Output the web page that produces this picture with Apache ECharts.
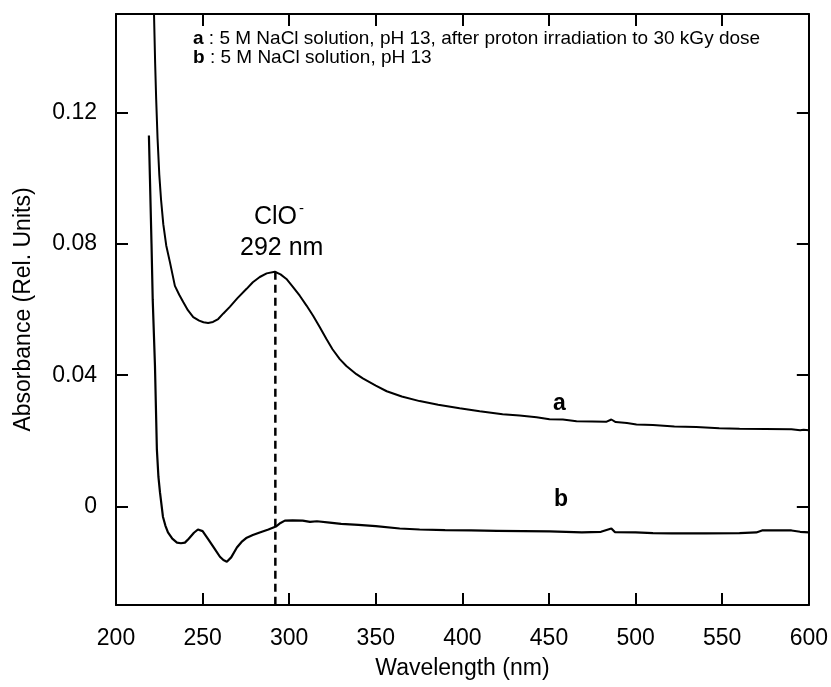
<!DOCTYPE html>
<html>
<head>
<meta charset="utf-8">
<script src="https://cdn.jsdelivr.net/npm/echarts@6/dist/echarts.min.js"></script>
<style>
  html, body { margin: 0; padding: 0; background: #fff; }
  #chart { width: 831px; height: 687px; }
</style>
</head>
<body>
<div id="chart"></div>
<script>
// 曲线 a：质子辐照后 [波长 nm, 吸光度]
const curveA = [
  [221.3, 0.160], [221.9, 0.151], [222.6, 0.135], [223.2, 0.124], [224, 0.112],
  [225, 0.101], [226, 0.0935], [227.3, 0.0860], [229, 0.0795], [231.1, 0.0745], [234, 0.0672], [236.5, 0.0645],
  [238.8, 0.0623], [241.5, 0.0598], [244.6, 0.0577], [248, 0.0566], [250.5, 0.0561],
  [253.2, 0.0559], [256, 0.0562], [259, 0.0571], [262, 0.0588], [265.7, 0.0608],
  [270, 0.0634], [275.4, 0.0663], [279, 0.0683], [283, 0.0699], [287, 0.0710],
  [291.7, 0.0715], [295, 0.0707], [298.4, 0.0693], [302, 0.0670], [306.1, 0.0642],
  [310, 0.0612], [313.8, 0.0581], [317.6, 0.0547], [321.5, 0.0510], [325, 0.0479],
  [329.2, 0.0449], [333, 0.0428], [338.8, 0.0403], [342.5, 0.0390], [350, 0.0368],
  [356.3, 0.0351], [365, 0.0335], [375.3, 0.0321], [386, 0.0310], [398.4, 0.0299],
  [410, 0.0290], [423.2, 0.0281], [433, 0.0277], [442.8, 0.0272], [450.3, 0.0266],
  [458, 0.0265], [465.9, 0.0260], [475, 0.0259], [483, 0.0258], [486, 0.0265],
  [488.5, 0.0257], [495, 0.0254], [500.5, 0.0250], [510, 0.0248], [522.4, 0.0244],
  [535, 0.0242], [548.3, 0.0238], [560, 0.0237], [575, 0.0236], [590, 0.0235],
  [595, 0.0232], [597, 0.0234], [600, 0.0232]
];

// 曲线 b：未辐照
const curveB = [
  [219, 0.113], [219.6, 0.0998], [220.5, 0.080], [221.2, 0.063], [222.5, 0.0428],
  [223.6, 0.0174], [224.5, 0.009], [225.4, 0.0043], [227.1, -0.0031], [228.5, -0.0058],
  [230, -0.0079], [232.5, -0.0098], [235.2, -0.0110], [237.5, -0.0112], [239.8, -0.0110],
  [242, -0.0098], [245, -0.0080], [247.3, -0.0070], [250, -0.0075], [253, -0.0098],
  [256.5, -0.0125], [260, -0.0153], [262, -0.0163], [264, -0.0168], [266.5, -0.0155],
  [269.8, -0.0125], [272.5, -0.0108], [275.5, -0.0095], [279, -0.0087], [283, -0.0079],
  [288, -0.0070], [292.3, -0.0061], [295, -0.0050], [297.5, -0.0043], [302, -0.0042],
  [307.8, -0.0043], [312, -0.0047], [316, -0.0045], [323.4, -0.0049], [330, -0.0053],
  [340, -0.0056], [350, -0.0060], [363.8, -0.0067], [375.3, -0.0070], [390, -0.0072],
  [405, -0.0073], [420, -0.0074], [435, -0.0075], [450.3, -0.0076], [469, -0.0079],
  [480, -0.0077], [486, -0.0067], [488, -0.0078], [500, -0.0079], [510, -0.0081],
  [521, -0.0082], [540, -0.0082], [560, -0.0081], [569.7, -0.0079], [573, -0.0073],
  [590, -0.0073], [595, -0.0077], [600, -0.0079]
];

// ClO- 峰位置虚线
const peakLine = [[292, 0.0715], [292, -0.03]];

const yTicks = [0, 0.04, 0.08, 0.12];
const yTickLabels = ['0', '0.04', '0.08', '0.12'];

const legendLines = [
  ['a', ' : 5 M NaCl solution, pH 13, after proton irradiation to 30 kGy dose'],
  ['b', ' : 5 M NaCl solution, pH 13']
];

const FONT = '"Liberation Sans", Arial, Helvetica, sans-serif';
const myChart = echarts.init(document.getElementById('chart'));

const frameLine = { show: true, onZero: false, lineStyle: { color: '#000', width: 2 } };
const innerTick = { show: true, inside: true, length: 12, lineStyle: { color: '#000', width: 2 } };

const option = {
  backgroundColor: '#fff',
  animation: false,
  grid: { left: 116, right: 22, top: 14, bottom: 82, containLabel: false },
  xAxis: [
    {
      type: 'value',
      min: 200,
      max: 600,
      interval: 50,
      position: 'bottom',
      axisLine: frameLine,
      axisTick: innerTick,
      splitLine: { show: false },
      axisLabel: { color: '#000', fontSize: 23, fontFamily: FONT, margin: 22 },
      name: 'Wavelength (nm)',
      nameLocation: 'middle',
      nameGap: 52,
      nameTextStyle: { color: '#000', fontSize: 23, fontFamily: FONT }
    },
    {
      type: 'value',
      min: 200,
      max: 600,
      interval: 50,
      position: 'top',
      axisLine: frameLine,
      axisTick: innerTick,
      splitLine: { show: false },
      axisLabel: { show: false }
    }
  ],
  yAxis: [
    {
      type: 'value',
      min: -0.03,
      max: 0.15,
      position: 'left',
      axisLine: frameLine,
      axisTick: Object.assign({}, innerTick, { customValues: yTicks }),
      splitLine: { show: false },
      axisLabel: {
        color: '#000', fontSize: 23, fontFamily: FONT, margin: 19,
        customValues: yTicks,
        formatter: (v) => yTickLabels[yTicks.findIndex(t => Math.abs(t - v) < 1e-9)] || ''
      },
      name: 'Absorbance (Rel. Units)',
      nameLocation: 'middle',
      nameGap: 81,
      nameTextStyle: { color: '#000', fontSize: 23, fontFamily: FONT }
    },
    {
      type: 'value',
      min: -0.03,
      max: 0.15,
      position: 'right',
      axisLine: frameLine,
      axisTick: Object.assign({}, innerTick, { customValues: yTicks }),
      splitLine: { show: false },
      axisLabel: { show: false }
    }
  ],
  series: [
    {
      name: 'a',
      type: 'line',
      data: curveA,
      symbol: 'none',
      lineStyle: { color: '#000', width: 2 },
      clip: true
    },
    {
      name: 'b',
      type: 'line',
      data: curveB,
      symbol: 'none',
      lineStyle: { color: '#000', width: 2.2 },
      clip: true
    },
    {
      name: 'peak',
      type: 'line',
      data: peakLine,
      symbol: 'none',
      lineStyle: { color: '#000', width: 2.5, type: [8, 5] }
    }
  ],
  graphic: [
    // 图例说明文字
    ...legendLines.map((l, i) => ({
      type: 'text',
      left: 193,
      top: 29 + i * 19,
      style: {
        text: '{b|' + l[0] + '}{n|' + l[1] + '}',
        rich: {
          b: { fontSize: 19, fontWeight: 'bold', fontFamily: FONT, fill: '#000' },
          n: { fontSize: 19, fontFamily: FONT, fill: '#000' }
        }
      }
    })),
    // ClO- 标注
    { type: 'text', left: 254, top: 205, style: { text: 'ClO', fontSize: 25, fontFamily: FONT, fill: '#000' } },
    { type: 'text', left: 299, top: 201, style: { text: '-', fontSize: 15, fontFamily: FONT, fill: '#000' } },
    { type: 'text', left: 240, top: 236, style: { text: '292 nm', fontSize: 25, fontFamily: FONT, fill: '#000' } },
    // 曲线标签
    { type: 'text', left: 553, top: 392, style: { text: 'a', fontSize: 23, fontWeight: 'bold', fontFamily: FONT, fill: '#000' } },
    { type: 'text', left: 554, top: 488, style: { text: 'b', fontSize: 23, fontWeight: 'bold', fontFamily: FONT, fill: '#000' } }
  ]
};

myChart.setOption(option);
</script>
</body>
</html>
